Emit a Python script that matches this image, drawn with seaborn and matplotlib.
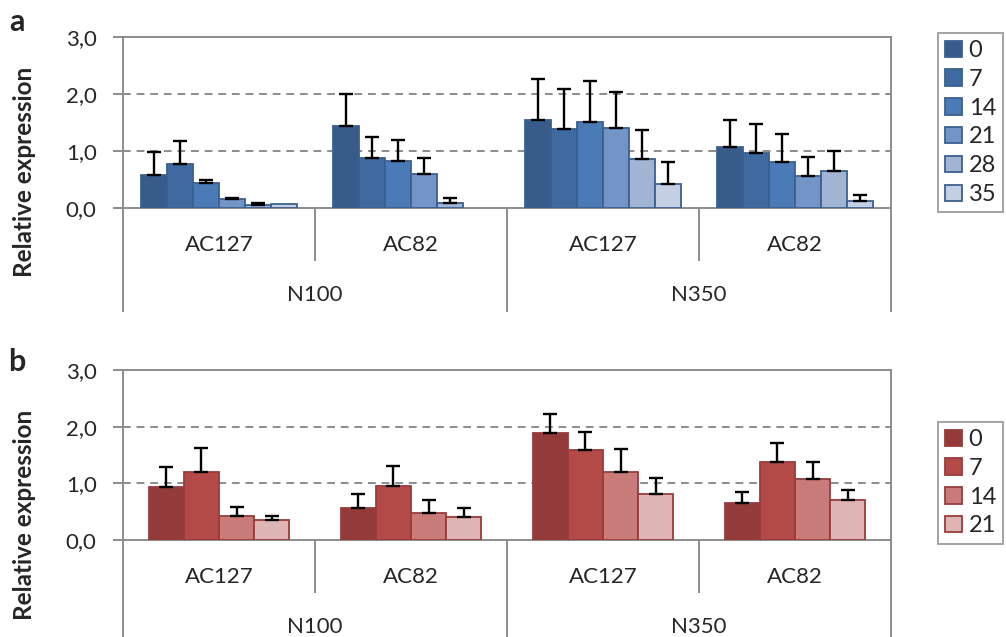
import matplotlib
matplotlib.use("Agg")
import matplotlib.pyplot as plt
import matplotlib.transforms as mtransforms
import seaborn as sns
import numpy as np
import pandas as pd

# ---- data ----
groups = ["N100 AC127", "N100 AC82", "N350 AC127", "N350 AC82"]
cultivar_labels = ["AC127", "AC82", "AC127", "AC82"]
nitrogen_labels = ["N100", "N350"]
ytick_vals = [0, 1, 2, 3]
ytick_labels = ["0,0", "1,0", "2,0", "3,0"]

days_a = ["0", "7", "14", "21", "28", "35"]
vals_a = {
    "0":  [0.58, 1.43, 1.54, 1.07],
    "7":  [0.78, 0.87, 1.38, 0.97],
    "14": [0.43, 0.83, 1.51, 0.80],
    "21": [0.15, 0.60, 1.40, 0.56],
    "28": [0.05, 0.08, 0.86, 0.65],
    "35": [0.07, 0.00, 0.42, 0.13],
}
errs_a = {
    "0":  [0.41, 0.57, 0.72, 0.48],
    "7":  [0.39, 0.37, 0.71, 0.50],
    "14": [0.06, 0.37, 0.71, 0.49],
    "21": [0.03, 0.28, 0.64, 0.33],
    "28": [0.03, 0.10, 0.51, 0.35],
    "35": [0.00, 0.00, 0.38, 0.09],
}

days_b = ["0", "7", "14", "21"]
vals_b = {
    "0":  [0.93, 0.56, 1.88, 0.66],
    "7":  [1.20, 0.96, 1.58, 1.38],
    "14": [0.42, 0.47, 1.20, 1.08],
    "21": [0.36, 0.40, 0.82, 0.71],
}
errs_b = {
    "0":  [0.36, 0.25, 0.35, 0.18],
    "7":  [0.43, 0.34, 0.32, 0.33],
    "14": [0.16, 0.23, 0.41, 0.30],
    "21": [0.06, 0.16, 0.28, 0.17],
}

blues = ["#375C8A", "#3E6A9F", "#4A7BB6", "#7294C6", "#A1B4D4", "#C4CFE4"]
reds = ["#953A3A", "#B44A48", "#C97B7A", "#DFB5B4"]

sns.set_style("white")
plt.rcParams["font.family"] = ["Lato", "DejaVu Sans"]
GRID = "#8C8C8C"


def long_df(days, vals):
    rows = []
    for d in days:
        for g, v in zip(groups, vals[d]):
            rows.append({"group": g, "day": d, "value": v})
    return pd.DataFrame(rows)


def panel(ax, days, vals, errs, colors, edge, width, leg_top):
    df = long_df(days, vals)
    sns.barplot(data=df, x="group", y="value", hue="day", order=groups,
                hue_order=days, palette=colors, width=width, errorbar=None,
                edgecolor=edge, linewidth=1.3, saturation=1, ax=ax, zorder=3)
    # one-sided error bars on top of each bar; empty bars get no outline
    for d, cont in zip(days, ax.containers):
        for p, e in zip(cont.patches, errs[d]):
            if p.get_height() <= 0:
                p.set_visible(False)
            if e <= 0:
                continue
            x = p.get_x() + p.get_width() / 2
            ax.errorbar(x, p.get_height(), yerr=[[0], [e]], fmt="none",
                        ecolor="black", elinewidth=1.7, capsize=5,
                        capthick=1.7, zorder=4)
    ax.set_xlim(-0.5, 3.5)
    ax.set_ylim(0, 3)
    ax.set_yticks(ytick_vals)
    ax.set_yticklabels(ytick_labels, fontsize=16)
    ax.tick_params(axis="y", direction="out", length=7, width=1.4,
                   color=GRID, pad=12, left=True)
    ax.tick_params(axis="x", length=0, labelbottom=False)
    ax.set_xlabel("")
    ax.set_ylabel("")
    for y in [1, 2]:
        ax.axhline(y, color=GRID, lw=1.4, ls=(0, (4, 3)), zorder=1)
    for s in ax.spines.values():
        s.set_color(GRID)
        s.set_linewidth(1.4)
        s.set_visible(True)

    # two-level category axis below
    tr = mtransforms.blended_transform_factory(ax.transData, ax.transAxes)
    h_px = ax.get_position().height * fig.get_figheight() * fig.dpi
    for i, lab in enumerate(cultivar_labels):
        ax.text(i, -37 / h_px, lab, transform=tr, ha="center", va="center",
                fontsize=16, clip_on=False)
    for j, lab in enumerate(nitrogen_labels):
        ax.text(2 * j + 0.5, -87 / h_px, lab, transform=tr, ha="center",
                va="center", fontsize=16, clip_on=False)
    for x, depth in [(-0.5, 104), (0.5, 53), (1.5, 104), (2.5, 53), (3.5, 104)]:
        ax.plot([x, x], [0, -depth / h_px], transform=tr, color=GRID, lw=1.4,
                clip_on=False, solid_capstyle="butt")

    handles, labels = ax.get_legend_handles_labels()
    ax.legend(handles, labels, loc="upper left",
              bbox_to_anchor=(938 / 1006, leg_top), bbox_transform=fig.transFigure,
              fontsize=17, frameon=True, fancybox=False, edgecolor=GRID,
              handlelength=0.7, handleheight=0.7, handletextpad=0.3,
              labelspacing=0.33, borderpad=0.3, borderaxespad=0)
    ax.get_legend().get_frame().set_linewidth(1.4)


fig = plt.figure(figsize=(10.06, 6.37), dpi=100)
ax_a = fig.add_axes([123 / 1006, 1 - 208 / 637, 768 / 1006, 171 / 637])
ax_b = fig.add_axes([123 / 1006, 1 - 540 / 637, 768 / 1006, 170 / 637])

panel(ax_a, days_a, vals_a, errs_a, blues, "#3A6090", 0.81, 1 - 33 / 637)
panel(ax_b, days_b, vals_b, errs_b, reds, "#9A3B3B", 0.73, 1 - 422 / 637)

fig.text(25 / 1006, 1 - 172 / 637, "Relative expression", rotation=90,
         ha="center", va="center", fontsize=17.5, fontweight="bold")
fig.text(25 / 1006, 1 - 515 / 637, "Relative expression", rotation=90,
         ha="center", va="center", fontsize=17.5, fontweight="bold")
fig.text(17 / 1006, 1 - 22 / 637, "a", ha="center", va="center",
         fontsize=22, fontweight="bold")
fig.text(17 / 1006, 1 - 362 / 637, "b", ha="center", va="center",
         fontsize=22, fontweight="bold")

fig.savefig("out.png", dpi=100)
